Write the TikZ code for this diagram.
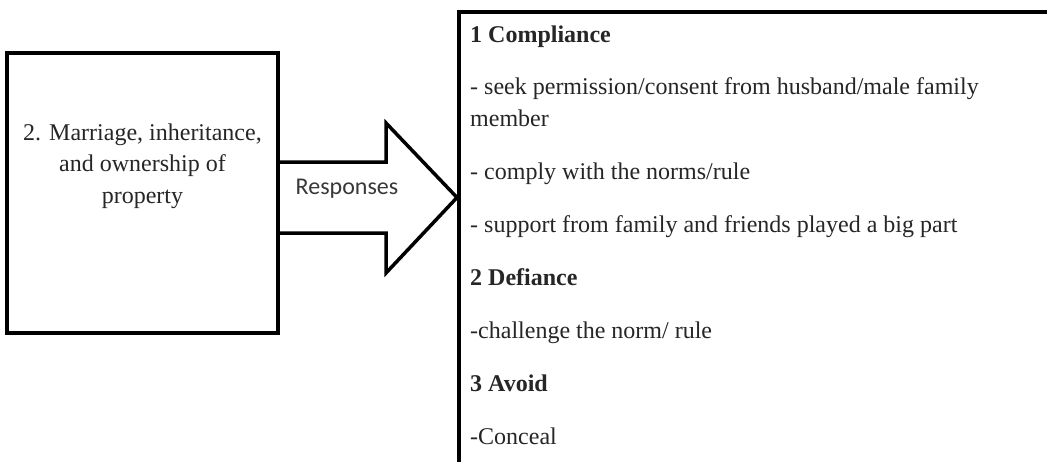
\documentclass[tikz,border=0pt]{standalone}
\usepackage{fontspec}
\setmainfont{Liberation Serif}
\newfontfamily\labelfont{Carlito}
\usetikzlibrary{calc}
\begin{document}
\begin{tikzpicture}[x=1pt,y=-1pt,
  frame/.style={draw=black, line width=3.5pt, inner sep=0pt},
  arrowline/.style={draw=black, line width=3.5pt, line join=miter},
  body/.style={font=\fontsize{24}{31.5}\selectfont, text=black!85, inner sep=0pt},
  item/.style={body, anchor=base west, align=left},
  heading/.style={item, font=\fontsize{24}{31.5}\selectfont\bfseries}]
\useasboundingbox (0,0) rectangle (1047,461);
\fill[white] (0,0) rectangle (1047,461);
\clip (0,0) rectangle (1047,461);

% source box
\node[frame, minimum width=271pt, minimum height=280pt] (src) at (142.5,193) {};
\node[body, align=center] (srctext) at (142.5,166)
  {2. Marriage, inheritance,\\and ownership of\\property};

% response box, running past the right and bottom edges
\node[frame, anchor=north west, minimum width=700pt, minimum height=520pt] (resp) at (457,10) {};

% block arrow between the boxes
\coordinate (tip) at (resp.west |- 0,197.5);
\coordinate (sa) at (src.east |- 0,162);
\coordinate (sb) at (src.east |- 0,233);
\draw[arrowline] (sa) -- (386,162) -- (386,123) -- (tip) -- (386,273) -- (386,233) -- (sb);
\node[font=\labelfont\fontsize{24}{28}\selectfont, text=black!78, anchor=base, inner sep=0pt] (lbl) at (347,194) {Responses};

% response list (a multi-line node sits on the baseline of its last line)
\node[heading] (h1) at (470,42) {1 Compliance};
\node[item] (i1) at (470,126) {- seek permission/consent from husband/male family\\[0.5pt]member};
\node[item] (i2) at (470,179) {- comply with the norms/rule};
\node[item] (i3) at (470,232) {- support from family and friends played a big part};
\node[heading] (h2) at (470,285) {2 Defiance};
\node[item] (i4) at (470,338) {-challenge the norm/ rule};
\node[heading] (h3) at (470,391) {3 Avoid};
\node[item] (i5) at (470,444) {-Conceal};
\end{tikzpicture}
\end{document}
